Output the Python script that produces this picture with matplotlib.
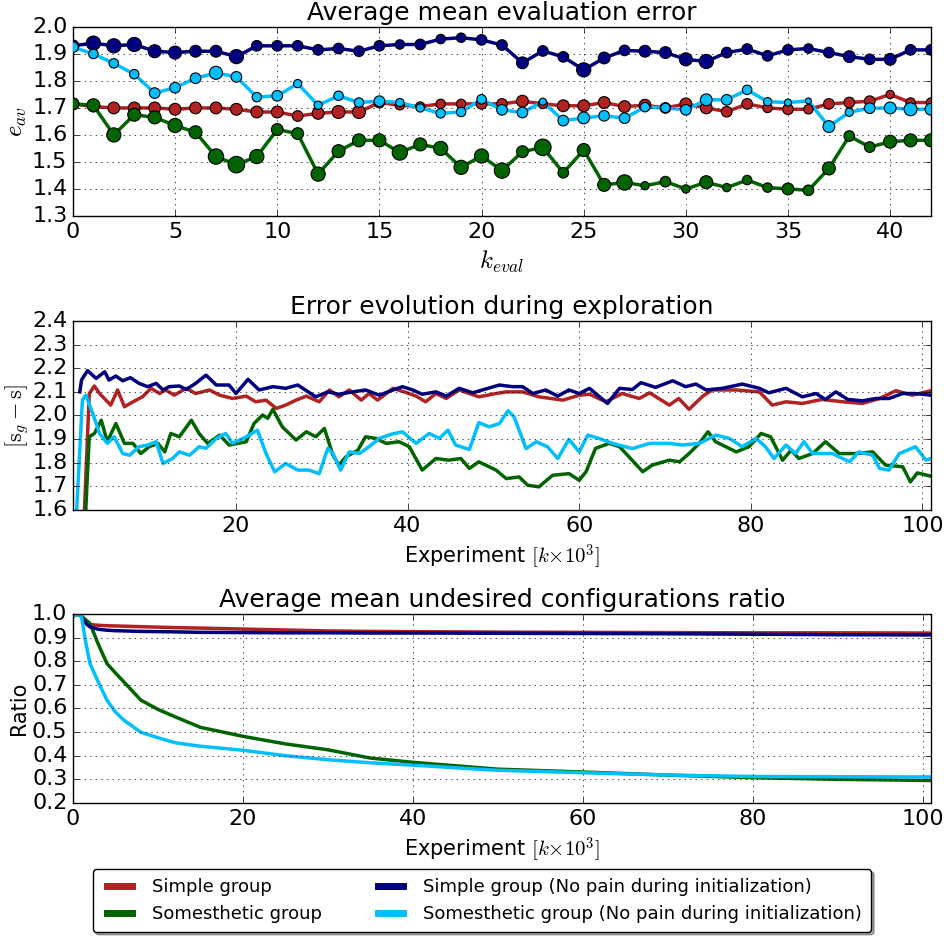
import numpy as np
import matplotlib
matplotlib.use('Agg')
import matplotlib.pyplot as plt

plt.style.use('classic')
plt.rcParams['figure.facecolor'] = 'white'
plt.rcParams['savefig.facecolor'] = 'white'

# ---- panel 1: average mean evaluation error ----
k_eval = np.arange(43)
eval_simple = [1.715, 1.705, 1.70, 1.70, 1.70, 1.695, 1.70, 1.70, 1.695, 1.685,
               1.685, 1.67, 1.68, 1.685, 1.685, 1.72, 1.71, 1.705, 1.715, 1.715,
               1.715, 1.715, 1.725, 1.715, 1.708, 1.708, 1.72, 1.705, 1.71, 1.70,
               1.715, 1.70, 1.686, 1.715, 1.70, 1.695, 1.695, 1.715, 1.72, 1.725,
               1.75, 1.72, 1.72]
eval_somes = [1.715, 1.71, 1.60, 1.675, 1.665, 1.635, 1.61, 1.52, 1.49, 1.52,
              1.62, 1.605, 1.455, 1.54, 1.58, 1.58, 1.535, 1.565, 1.55, 1.48,
              1.522, 1.468, 1.538, 1.554, 1.46, 1.544, 1.415, 1.424, 1.412, 1.427,
              1.40, 1.425, 1.405, 1.433, 1.405, 1.40, 1.395, 1.476, 1.596, 1.555,
              1.575, 1.58, 1.58]
eval_simple_np = [1.93, 1.94, 1.93, 1.935, 1.91, 1.905, 1.91, 1.91, 1.89, 1.93,
                  1.93, 1.93, 1.915, 1.92, 1.91, 1.93, 1.935, 1.935, 1.955, 1.96,
                  1.952, 1.933, 1.867, 1.911, 1.889, 1.841, 1.885, 1.913, 1.91, 1.905,
                  1.88, 1.872, 1.905, 1.918, 1.893, 1.915, 1.92, 1.905, 1.89, 1.88,
                  1.88, 1.915, 1.915]
eval_somes_np = [1.925, 1.90, 1.865, 1.825, 1.755, 1.775, 1.81, 1.83, 1.815, 1.74,
                 1.745, 1.79, 1.71, 1.745, 1.72, 1.725, 1.72, 1.70, 1.68, 1.685,
                 1.732, 1.693, 1.683, 1.723, 1.653, 1.663, 1.671, 1.662, 1.703, 1.70,
                 1.693, 1.73, 1.73, 1.767, 1.723, 1.72, 1.726, 1.631, 1.684, 1.699,
                 1.70, 1.695, 1.695]
# marker diameters (px)
msz_simple = [10, 9, 10, 10, 10, 10, 10, 10, 10, 10, 10, 9, 10, 11, 11, 9, 8, 8, 8, 8,
              9, 9, 10, 8, 10, 10, 10, 10, 10, 9, 10, 10, 9, 9, 8, 9, 8, 9, 9, 9,
              7, 8, 8]
msz_somes = [10, 11, 12, 11, 11, 12, 11, 13, 14, 12, 10, 10, 12, 11, 11, 11, 13, 11, 12, 12,
             12, 13, 10, 14, 9, 11, 11, 13, 7, 9, 7, 11, 7, 8, 8, 10, 9, 11, 9, 9,
             11, 11, 11]
msz_simple_np = [10, 12, 12, 12, 11, 11, 10, 10, 12, 9, 9, 9, 9, 9, 9, 9, 8, 9, 8, 8,
                 9, 9, 10, 9, 9, 12, 10, 9, 10, 10, 11, 12, 9, 9, 9, 9, 8, 9, 10, 9,
                 10, 9, 9]
msz_somes_np = [9, 8, 8, 8, 9, 9, 9, 11, 9, 8, 9, 7, 7, 8, 8, 9, 7, 7, 8, 8,
                8, 9, 9, 6, 9, 10, 9, 9, 8, 8, 9, 10, 9, 8, 7, 6, 5, 10, 7, 9,
                10, 11, 10]

# ---- panel 2: error evolution during exploration ----
exp_simple = [2.0, 2.9, 3.5, 4.1, 5.4, 6.2, 7, 8, 9.1, 10.1, 11.1, 11.8, 12.8, 14.2, 15.3,
              16.9, 18.1, 19.6, 21.2, 22.3, 23.5, 24.7, 25.8, 27, 28.2, 29.7, 30.9, 32,
              33.2, 34.6, 35.5, 36.5, 38.3, 39.6, 41, 42.1, 43.3, 44.5, 46, 47.2, 48.3,
              50.3, 51.5, 53.4, 55.3, 58.1, 60, 61.2, 63.1, 65, 67, 68.2, 70.5, 71.6,
              72.8, 74.4, 75.5, 78.3, 81, 82.5, 84.1, 86, 88.3, 90.7, 93, 95, 96.9,
              98.8, 101]
err_simple = [1.3, 2.093, 2.125, 2.093, 2.044, 2.108, 2.037, 2.058, 2.079, 2.115, 2.093,
              2.108, 2.086, 2.115, 2.093, 2.108, 2.086, 2.072, 2.082, 2.058, 2.065, 2.03,
              2.044, 2.065, 2.082, 2.058, 2.108, 2.079, 2.108, 2.065, 2.093, 2.065, 2.115,
              2.1, 2.082, 2.058, 2.093, 2.072, 2.108, 2.093, 2.079, 2.093, 2.1, 2.1,
              2.079, 2.065, 2.086, 2.09, 2.058, 2.093, 2.072, 2.096, 2.044, 2.072, 2.026,
              2.082, 2.108, 2.108, 2.1, 2.044, 2.058, 2.051, 2.068, 2.058, 2.051, 2.072,
              2.105, 2.086, 2.105]
exp_somes = [2.1, 2.9, 3.5, 4.3, 5.0, 6, 7, 8, 8.9, 9.9, 10.9, 11.7, 12.4, 13.4, 14.8,
             15.7, 16.7, 18.1, 19.2, 21.2, 22.1, 23.1, 23.7, 24.3, 25.4, 27, 28.2, 29.3,
             30.3, 31.3, 32, 32.8, 34.2, 35.1, 36.3, 37.5, 39, 40.2, 41.7, 43.3, 44.8,
             46.2, 47.2, 48.3, 50.3, 51.5, 53, 54, 55.3, 56.9, 58.8, 60, 60.8, 61.9,
             63.5, 64.7, 65.8, 67.4, 68.5, 70.5, 71.7, 72.8, 74, 75, 75.9, 78.3, 79.8,
             81.2, 82.3, 83.7, 84.7, 85.6, 87.2, 88.7, 90.3, 92.2, 94.2, 95.7, 97.7,
             98.6, 99.4, 101]
err_somes = [1.3, 1.91, 1.924, 1.98, 1.889, 1.966, 1.882, 1.882, 1.839, 1.868, 1.882,
             1.846, 1.924, 1.91, 1.98, 1.924, 1.882, 1.917, 1.875, 1.889, 1.966, 2.002,
             1.988, 2.026, 1.952, 1.896, 1.931, 1.91, 1.945, 1.832, 1.79, 1.825, 1.853,
             1.91, 1.903, 1.882, 1.889, 1.868, 1.769, 1.818, 1.811, 1.818, 1.776, 1.804,
             1.769, 1.733, 1.74, 1.705, 1.698, 1.747, 1.754, 1.726, 1.762, 1.861, 1.882,
             1.868, 1.825, 1.762, 1.79, 1.811, 1.804, 1.839, 1.882, 1.931, 1.889, 1.846,
             1.868, 1.924, 1.91, 1.811, 1.853, 1.818, 1.839, 1.889, 1.839, 1.839, 1.846,
             1.79, 1.783, 1.719, 1.757, 1.743]
exp_simple_np = [1.8, 2.0, 2.7, 3.7, 4.7, 5.2, 6.0, 6.8, 7.7, 8.7, 9.7, 10.7, 11.5, 12.2,
                 13.4, 14.2, 15.3, 16.5, 17.7, 19.2, 20, 21.4, 22.7, 24.3, 25.8, 27.2,
                 29.3, 30.7, 32, 33.6, 35.1, 36.7, 38.3, 39.4, 40.6, 41.7, 43.3, 44.5,
                 46, 47.6, 48.7, 50.7, 52.2, 53.4, 54.6, 56.1, 57.5, 58.8, 60, 61.2, 63.3,
                 64.7, 66.2, 67.2, 68.9, 70.9, 72.4, 73.6, 74.8, 76.7, 79, 81, 82.1, 84.1,
                 86, 87.6, 88.7, 89.9, 91.3, 93, 94.6, 96.1, 97.7, 99.2, 101]
err_simple_np = [2.10, 2.15, 2.19, 2.157, 2.185, 2.15, 2.167, 2.147, 2.16, 2.136, 2.122,
                 2.136, 2.108, 2.122, 2.125, 2.11, 2.136, 2.171, 2.129, 2.129, 2.093,
                 2.153, 2.108, 2.122, 2.115, 2.129, 2.079, 2.1, 2.09, 2.1, 2.108, 2.086,
                 2.108, 2.122, 2.108, 2.09, 2.1, 2.082, 2.115, 2.096, 2.108, 2.129, 2.122,
                 2.122, 2.093, 2.108, 2.082, 2.108, 2.093, 2.115, 2.051, 2.115, 2.11,
                 2.139, 2.119, 2.147, 2.122, 2.133, 2.108, 2.115, 2.133, 2.115, 2.096,
                 2.115, 2.079, 2.093, 2.068, 2.1, 2.068, 2.062, 2.072, 2.072, 2.093,
                 2.093, 2.086]
exp_somes_np = [1.0, 2.1, 2.5, 3.3, 4.1, 5.0, 5.8, 6.8, 7.6, 8.7, 9.7, 10.7, 11.5, 12.6,
                13.4, 14.6, 15.7, 16.5, 17.7, 18.8, 19.6, 21.2, 22.5, 23.5, 24.5, 25.8,
                27.2, 28.5, 29.7, 30.7, 31.3, 32.2, 33.2, 34.4, 35.5, 36.7, 38.1, 39.4,
                41, 42.5, 43.7, 44.7, 45.6, 47.2, 48.3, 49.5, 50.7, 51.7, 52.4, 53.8, 55,
                56.3, 57.5, 58.8, 60, 61, 62.3, 63.9, 66.2, 68.2, 70.5, 72, 74, 75.9, 77.5,
                79, 80.6, 81.7, 82.7, 84.1, 85.2, 86.2, 87.2, 89.5, 91.5, 92.6, 94.2, 95,
                96.1, 97.3, 99.2, 100.4, 101]
err_somes_np = [1.3, 2.065, 2.086, 2.009, 1.924, 1.882, 1.91, 1.839, 1.832, 1.868, 1.875,
                1.889, 1.797, 1.818, 1.846, 1.832, 1.868, 1.861, 1.903, 1.924, 1.882, 1.91,
                1.938, 1.839, 1.762, 1.797, 1.769, 1.769, 1.754, 1.861, 1.839, 1.769,
                1.846, 1.839, 1.868, 1.903, 1.921, 1.931, 1.882, 1.924, 1.903, 1.938,
                1.875, 1.856, 1.97, 1.952, 1.966, 2.02, 1.995, 1.86, 1.889, 1.868, 1.818,
                1.899, 1.846, 1.917, 1.903, 1.882, 1.86, 1.882, 1.882, 1.875, 1.882, 1.917,
                1.903, 1.868, 1.903, 1.868, 1.818, 1.875, 1.839, 1.889, 1.839, 1.839,
                1.804, 1.846, 1.832, 1.776, 1.769, 1.839, 1.868, 1.811, 1.818]

# ---- panel 3: undesired configurations ratio ----
exp_ratio = [0, 0.5, 1, 1.5, 2, 3, 4, 5, 6, 8, 10, 12, 15, 20, 25, 30, 35, 40, 50, 60,
             70, 80, 90, 101]
ratio_simple = [0.99, 1.0, 0.99, 0.97, 0.955, 0.952, 0.95, 0.949, 0.948, 0.946, 0.944,
                0.942, 0.94, 0.936, 0.932, 0.928, 0.926, 0.925, 0.923, 0.922, 0.921,
                0.92, 0.92, 0.919]
ratio_somes = [0.99, 1.0, 0.99, 0.975, 0.96, 0.87, 0.79, 0.75, 0.712, 0.635, 0.596,
               0.565, 0.52, 0.482, 0.45, 0.425, 0.39, 0.372, 0.343, 0.331, 0.318,
               0.307, 0.30, 0.295]
ratio_simple_np = [0.99, 1.0, 0.99, 0.96, 0.945, 0.935, 0.931, 0.929, 0.928, 0.926,
                   0.925, 0.924, 0.922, 0.921, 0.92, 0.92, 0.919, 0.919, 0.918, 0.917,
                   0.916, 0.914, 0.912, 0.911]
ratio_somes_np = [0.99, 1.0, 0.99, 0.88, 0.79, 0.71, 0.635, 0.585, 0.55, 0.499, 0.476,
                  0.455, 0.44, 0.423, 0.40, 0.383, 0.37, 0.36, 0.338, 0.328, 0.318,
                  0.312, 0.311, 0.31]

labels = ['Simple group', 'Somesthetic group',
          'Simple group (No pain during initialization)',
          'Somesthetic group (No pain during initialization)']
colors = ['#b22222', '#006400', '#000080', '#00bfff']

fig = plt.figure(figsize=(9.45, 9.41), dpi=100)
ax1 = fig.add_axes([0.0772, 0.7705, 0.908, 0.2009])
ax2 = fig.add_axes([0.0772, 0.458, 0.908, 0.2009])
ax3 = fig.add_axes([0.0772, 0.1467, 0.908, 0.2009])

# top
for y, s, c in zip([eval_simple, eval_somes, eval_simple_np, eval_somes_np],
                   [msz_simple, msz_somes, msz_simple_np, msz_somes_np], colors):
    ax1.plot(k_eval, y, color=c, lw=2.5, zorder=2)
    ax1.scatter(k_eval, y, s=(np.array(s) * 0.85) ** 2, c=c, edgecolors='k',
                linewidths=0.8, zorder=3)
ax1.set_xlim(0, 42)
ax1.set_ylim(1.3, 2.0)
ax1.set_yticks(np.arange(1.3, 2.01, 0.1))
ax1.set_title('Average mean evaluation error', fontsize=18)
ax1.set_ylabel(r'$e_{av}$', fontsize=18, labelpad=2)
ax1.set_xlabel(r'$k_{eval}$', fontsize=18)

# middle
lines = []
for x, y, c, lab in zip([exp_simple, exp_somes, exp_simple_np, exp_somes_np],
                        [err_simple, err_somes, err_simple_np, err_somes_np],
                        colors, labels):
    ln, = ax2.plot(x, y, color=c, lw=2.5, label=lab)
    lines.append(ln)
ax2.set_xlim(1, 101)
ax2.set_ylim(1.6, 2.4)
ax2.set_xticks([20, 40, 60, 80, 100])
ax2.set_title('Error evolution during exploration', fontsize=18)
ax2.set_ylabel(r'$[\mathrm{s}_g - \mathrm{s}]$', fontsize=16, labelpad=1)
ax2.set_xlabel(r'Experiment $[k{\times}10^3]$', fontsize=15)

# bottom
for y, c in zip([ratio_simple, ratio_somes, ratio_simple_np, ratio_somes_np], colors):
    ax3.plot(exp_ratio, y, color=c, lw=2.5)
ax3.set_xlim(0, 101)
ax3.set_ylim(0.2, 1.0)
ax3.set_xticks([0, 20, 40, 60, 80, 100])
ax3.set_title('Average mean undesired configurations ratio', fontsize=18)
ax3.set_ylabel('Ratio', fontsize=15, labelpad=2)
ax3.set_xlabel(r'Experiment $[k{\times}10^3]$', fontsize=15)

for ax in (ax1, ax2, ax3):
    ax.grid(True)
    ax.tick_params(labelsize=16)

leg = fig.legend(handles=lines, loc='lower center', bbox_to_anchor=(0.51, 0.0),
                 ncol=2, fontsize=13, shadow=True, fancybox=True,
                 handlelength=2, columnspacing=2.8, borderpad=0.5)
for h in leg.legend_handles:
    h.set_linewidth(5)

fig.savefig('out.png', dpi=100)
